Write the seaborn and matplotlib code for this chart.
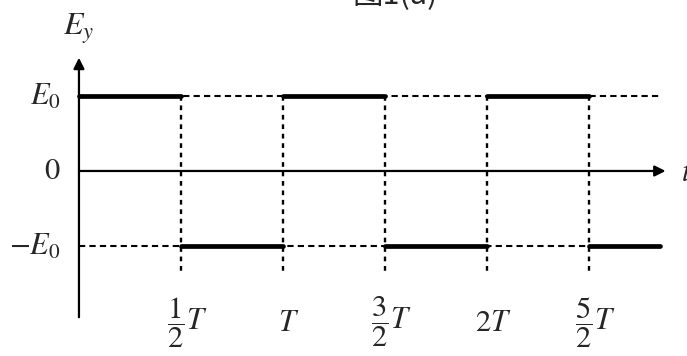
import matplotlib
matplotlib.use("Agg")
import matplotlib.pyplot as plt
import seaborn as sns
import pandas as pd

# square wave E_y(t), t in units of T, E in units of E0
seg_start = [0.0, 0.5, 1.0, 1.5, 2.0, 2.5]
seg_end = [0.5, 1.0, 1.5, 2.0, 2.5, 2.85]
seg_level = [1, -1, 1, -1, 1, -1]

tick_pos = [0.5, 1.0, 1.5, 2.0, 2.5]
tick_labels = [r"$\dfrac{1}{2}T$", r"$T$", r"$\dfrac{3}{2}T$", r"$2T$", r"$\dfrac{5}{2}T$"]
level_pos = [1, 0, -1]
level_labels = [r"$E_0$", r"$0$", r"$-E_0$"]

sns.set_style("white")
plt.rcParams["mathtext.fontset"] = "stix"
plt.rcParams["font.family"] = ["Noto Sans CJK SC", "DejaVu Sans"]

rows = []
for i, (a, b, v) in enumerate(zip(seg_start, seg_end, seg_level)):
    rows.append({"seg": i, "t": a, "E": v})
    rows.append({"seg": i, "t": b, "E": v})
df = pd.DataFrame(rows)

fig = plt.figure(figsize=(6.87, 3.56), dpi=100)
ax = fig.add_axes([0, 0, 1, 1])
ax.set_xlim(-0.387, 2.980)
ax.set_ylim(-2.467, 2.28)

# dashed guide lines
for v in [1, -1]:
    ax.plot([0, 2.85], [v, v], ls=(0, (3, 2)), color="black", lw=1.5)
for x in tick_pos:
    ax.plot([x, x], [1, -1.36], ls=(0, (2, 2)), color="black", lw=1.7)

# axes with arrows
ax.annotate("", xy=(2.875, 0), xytext=(0, 0),
            arrowprops=dict(arrowstyle="-|>", color="black", lw=1.6,
                            mutation_scale=16, shrinkA=0, shrinkB=0))
ax.annotate("", xy=(0, 1.51), xytext=(0, -1.95),
            arrowprops=dict(arrowstyle="-|>", color="black", lw=1.6,
                            mutation_scale=16, shrinkA=0, shrinkB=0))

# the wave itself
sns.lineplot(data=df, x="t", y="E", units="seg", estimator=None,
             color="black", lw=3.4, ax=ax, legend=False)
ax.axis("off")

for x, lab in zip(tick_pos, tick_labels):
    ax.text(x + 0.03, -2.02, lab, ha="center", va="center", fontsize=22)
for y, lab in zip(level_pos, level_labels):
    ax.text(-0.09, y, lab, ha="right", va="center", fontsize=22)
ax.text(0.0, 1.9, r"$E_y$", ha="center", va="center", fontsize=23)
ax.text(2.95, -0.02, r"$t$", ha="left", va="center", fontsize=22)

fig.text(0.575, 1.012, "图1(a)", ha="center", va="center", fontsize=22)

fig.savefig("out.png", dpi=100)
